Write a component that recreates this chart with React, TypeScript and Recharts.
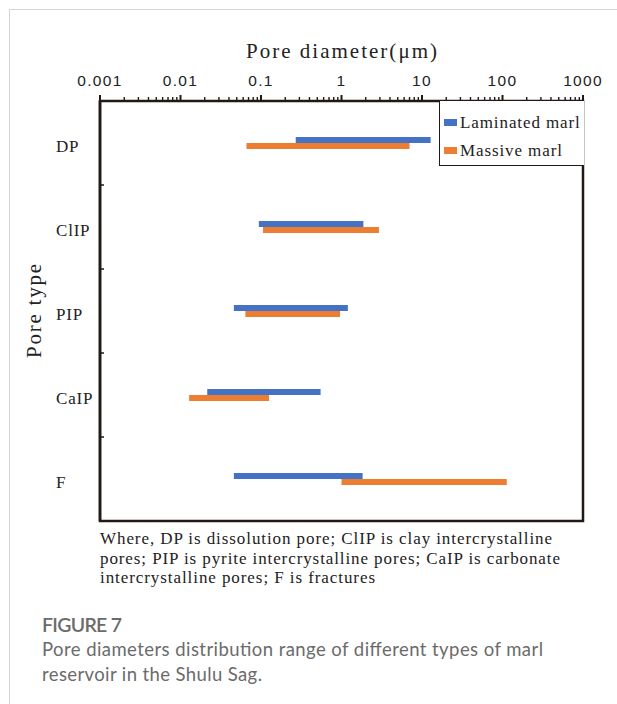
import React from 'react';
import { BarChart, Bar, XAxis, YAxis, Legend, ReferenceArea } from 'recharts';

// ---- data ----
const categories = ['DP', 'ClIP', 'PIP', 'CaIP', 'F'];
const laminatedLow = [0.27, 0.094, 0.046, 0.0215, 0.046];
const laminatedHigh = [12.8, 1.87, 1.2, 0.55, 1.83];
const massiveLow = [0.066, 0.106, 0.064, 0.0128, 1.0];
const massiveHigh = [7.0, 2.92, 0.96, 0.126, 113];
const seriesNames = ['Laminated marl', 'Massive marl'];
const majorTicks = [0.001, 0.01, 0.1, 1, 10, 100, 1000];
const majorTickLabels = ['0.001', '0.01', '0.1', '1', '10', '100', '1000'];
const minorMultipliers = [2, 3, 4, 5, 6, 7, 8, 9];
const xTitle = 'Pore diameter(\u03bcm)';
const yTitle = 'Pore type';
const noteLines = [
  'Where, DP is dissolution pore; ClIP is clay intercrystalline',
  'pores; PIP is pyrite intercrystalline pores; CaIP is carbonate',
  'intercrystalline pores; F is fractures',
];
const figureLabel = 'FIGURE 7';
const figureCaption = [
  'Pore diameters distribution range of different types of marl',
  'reservoir in the Shulu Sag.',
];

const data = categories.map((name, i) => ({
  name,
  lam: [laminatedLow[i], laminatedHigh[i]],
  mas: [massiveLow[i], massiveHigh[i]],
}));

const allTicks: number[] = [];
majorTicks.forEach((t, i) => {
  allTicks.push(t);
  if (i < majorTicks.length - 1) minorMultipliers.forEach((m) => allTicks.push(t * m));
});
allTicks.sort((a, b) => a - b);

const FRAME = '#231815';
const BLUE = '#4472C4';
const ORANGE = '#ED7D31';
const SERIF = '"Liberation Serif", "Times New Roman", serif';
const SANS = '"Liberation Sans", Arial, sans-serif';

const TopTick = (props: any) => {
  const { x, y, payload } = props;
  const v = payload.value;
  const idx = majorTicks.findIndex((t) => Math.abs(t - v) / t < 1e-6);
  const major = idx >= 0;
  return (
    <g>
      <line x1={x} x2={x} y1={y} y2={y - (major ? 6 : 4)} stroke={FRAME} strokeWidth={major ? 2 : 1.4} />
      {major && (
        <text x={x} y={y - 15} textAnchor="middle" fontFamily={SANS} fontSize={15.5} letterSpacing={1.3} fill="#222">
          {majorTickLabels[idx]}
        </text>
      )}
    </g>
  );
};

const CatTick = (props: any) => {
  const { x, y, payload, index, visibleTicksCount } = props;
  const half = payload.offset || 0;
  const last = index >= visibleTicksCount - 1;
  return (
    <g>
      <text x={56} y={y + 8.5} textAnchor="start" fontFamily={SERIF} fontSize={17} letterSpacing={0.8} fill="#222">
        {payload.value}
      </text>
      {!last && <line x1={x} x2={x + 4} y1={y + half} y2={y + half} stroke={FRAME} strokeWidth={1.5} />}
    </g>
  );
};

const XTitle = (props: any) => {
  const vb = props.viewBox || {};
  const cx = vb.x + vb.width / 2;
  return (
    <text x={cx} y={vb.y - 13} textAnchor="middle" fontFamily={SERIF} fontSize={21} fill="#222" textLength={191} lengthAdjust="spacing">
      {xTitle}
    </text>
  );
};

const YTitle = (props: any) => {
  const vb = props.viewBox || {};
  const cy = vb.y + vb.height / 2;
  const x = 41;
  return (
    <text x={x} y={cy} transform={`rotate(-90, ${x}, ${cy})`} textAnchor="middle" fontFamily={SERIF} fontSize={21} fill="#222" textLength={94} lengthAdjust="spacing">
      {yTitle}
    </text>
  );
};

const LegendBox = (props: any) => {
  const payload = props.payload || [];
  return (
    <div
      style={{
        width: 145,
        height: 65,
        boxSizing: 'border-box',
        borderLeft: `1.5px solid ${FRAME}`,
        borderBottom: `1.5px solid ${FRAME}`,
        background: '#fff',
        position: 'relative',
      }}
    >
      <svg width={145} height={65} style={{ position: 'absolute', left: -1.5, top: 0 }}>
        {payload.map((p: any, i: number) => (
          <g key={i}>
            <rect x={5} y={18 + i * 28} width={13} height={7} fill={p.color} />
            <text x={21} y={27 + i * 28} fontFamily={SERIF} fontSize={17} fill="#222" letterSpacing={0.9}>
              {p.value}
            </text>
          </g>
        ))}
      </svg>
    </div>
  );
};

export default function App() {
  return (
    <div style={{ position: 'absolute', left: 0, top: 0, width: 617, height: 704, background: '#fff', overflow: 'hidden' }}>
      <div style={{ position: 'absolute', left: 9, top: 9, width: 640, height: 720, borderLeft: '1px solid #d6d6d6', borderTop: '1px solid #d6d6d6' }} />
      <div style={{ position: 'absolute', left: 0, top: 0 }}>
        <BarChart
          width={617}
          height={704}
          data={data}
          layout="vertical"
          margin={{ top: 71, left: 50, right: 34, bottom: 183 }}
          barSize={6}
          barGap={0}
        >
          <XAxis
            xAxisId={0}
            type="number"
            orientation="top"
            scale="log"
            domain={[0.001, 1000]}
            allowDataOverflow
            ticks={allTicks}
            interval={0}
            height={30}
            tickSize={0}
            tickMargin={0}
            tickLine={false}
            tick={<TopTick />}
            axisLine={{ stroke: FRAME, strokeWidth: 2.2 }}
            label={<XTitle />}
          />
          <YAxis
            yAxisId="cat"
            type="category"
            dataKey="name"
            width={50}
            axisLine={{ stroke: FRAME, strokeWidth: 2.6 }}
            tickLine={false}
            tickSize={0}
            tickMargin={0}
            tick={<CatTick />}
            interval={0}
            label={<YTitle />}
          />
          <ReferenceArea
            xAxisId={0}
            yAxisId="cat"
            x1={0.001}
            x2={1000}
            fill="none"
            fillOpacity={0}
            stroke={FRAME}
            strokeWidth={2.5}
            ifOverflow="visible"
          />
          <Legend
            layout="vertical"
            align="center"
            verticalAlign="middle"
            wrapperStyle={{ position: 'absolute', left: 439, top: 101, width: 145, height: 65 }}
            content={<LegendBox />}
          />
          <Bar yAxisId="cat" xAxisId={0} dataKey="lam" name={seriesNames[0]} fill={BLUE} isAnimationActive={false} />
          <Bar yAxisId="cat" xAxisId={0} dataKey="mas" name={seriesNames[1]} fill={ORANGE} isAnimationActive={false} />
        </BarChart>
      </div>
      <svg width={617} height={704} style={{ position: 'absolute', left: 0, top: 0, pointerEvents: 'none' }}>
        {noteLines.map((l, i) => (
          <text key={i} x={100} y={544 + i * 19.5} fontFamily={SERIF} fontSize={17} fill="#222"
            textLength={[452, 460, 275][i]} lengthAdjust="spacing">
            {l}
          </text>
        ))}
        <text x={42} y={632} fontFamily="Lato, 'Open Sans', sans-serif" fontWeight={600} fontSize={19.5} fill="#6b6b6b" textLength={80} lengthAdjust="spacing">
          {figureLabel}
        </text>
        {figureCaption.map((l, i) => (
          <text key={i} x={42} y={656 + i * 25} fontFamily="Lato, 'Open Sans', sans-serif" fontSize={18.5} fill="#6b6b6b"
            textLength={[501, 220][i]} lengthAdjust="spacing">
            {l}
          </text>
        ))}
      </svg>
    </div>
  );
}
